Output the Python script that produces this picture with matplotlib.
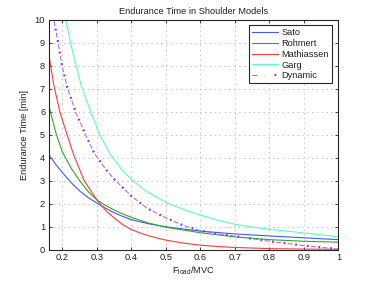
import matplotlib
matplotlib.use("Agg")
import matplotlib.pyplot as plt
from matplotlib.legend_handler import HandlerTuple

plt.rcParams['font.family'] = ['Liberation Sans', 'DejaVu Sans']
plt.rcParams['lines.scale_dashes'] = False
plt.rcParams['mathtext.fontset'] = 'custom'
plt.rcParams['mathtext.rm'] = 'Liberation Sans'
plt.rcParams['mathtext.it'] = 'Liberation Sans'

# ---- data ----
sato_x = [0.16, 0.18, 0.20, 0.225, 0.25, 0.275, 0.30, 0.325, 0.35, 0.375, 0.40, 0.45, 0.50, 0.60, 0.70, 0.80, 0.90, 1.00]
sato_y = [4.15, 3.72, 3.35, 2.92, 2.55, 2.26, 2.02, 1.80, 1.60, 1.44, 1.30, 1.12, 0.99, 0.80, 0.68, 0.59, 0.51, 0.43]

rohmert_x = [0.16, 0.1826, 0.20, 0.225, 0.25, 0.275, 0.30, 0.325, 0.35, 0.375, 0.40, 0.45, 0.50, 0.60, 0.70, 0.80, 0.90, 1.00]
rohmert_y = [6.30, 5.00, 4.25, 3.55, 3.00, 2.52, 2.16, 1.92, 1.72, 1.55, 1.40, 1.15, 0.97, 0.73, 0.55, 0.43, 0.36, 0.32]

mathiassen_x = [0.16, 0.175, 0.1925, 0.2135, 0.232, 0.263, 0.30, 0.327, 0.35, 0.375, 0.40, 0.425, 0.45, 0.475, 0.50, 0.55, 0.60, 0.65, 0.70, 0.80, 0.90, 1.00]
mathiassen_y = [8.55, 7.17, 6.00, 5.00, 4.15, 3.00, 2.16, 1.67, 1.38, 1.08, 0.87, 0.72, 0.60, 0.50, 0.41, 0.28, 0.19, 0.13, 0.09, 0.04, 0.02, 0.01]

garg_x = [0.21, 0.225, 0.24, 0.255, 0.282, 0.308, 0.34, 0.37, 0.40, 0.43, 0.45, 0.50, 0.55, 0.60, 0.65, 0.70, 0.75, 0.80, 0.90, 1.00]
garg_y = [10.0, 8.90, 8.00, 7.10, 6.00, 5.00, 4.12, 3.52, 3.05, 2.68, 2.48, 2.05, 1.75, 1.50, 1.28, 1.10, 0.98, 0.88, 0.72, 0.56]

dyn_x = [0.176, 0.1875, 0.199, 0.2135, 0.238, 0.267, 0.292, 0.3275, 0.352, 0.40, 0.445, 0.50, 0.55, 0.60, 0.65, 0.70, 0.80, 0.90, 1.00]
dyn_y = [9.94, 9.00, 8.00, 7.10, 6.00, 5.00, 4.20, 3.46, 3.03, 2.33, 1.80, 1.38, 1.05, 0.82, 0.69, 0.58, 0.36, 0.17, 0.02]

labels = ['Sato', 'Rohmert', 'Mathiassen', 'Garg', 'Dynamic']
x_ticks = [0.2, 0.3, 0.4, 0.5, 0.6, 0.7, 0.8, 0.9, 1.0]
x_ticklabels = ['0.2', '0.3', '0.4', '0.5', '0.6', '0.7', '0.8', '0.9', '1']
y_ticks = list(range(0, 11))

fig = plt.figure(figsize=(3.74, 2.81), dpi=100)
ax = fig.add_axes([0.13, 0.112, 0.775, 0.817])

tc = '#222222'
fs = 6.7

l1, = ax.plot(sato_x, sato_y, color='#3D5CFF', lw=0.8)
l2, = ax.plot(rohmert_x, rohmert_y, color='#33A526', lw=0.8)
l3, = ax.plot(mathiassen_x, mathiassen_y, color='#FF3B3B', lw=0.8)
l4, = ax.plot(garg_x, garg_y, color='#5CFFB4', lw=0.8)
l5a, = ax.plot(dyn_x, dyn_y, color='#A35CFF', lw=0.7, linestyle=(0, (3.6, 4.8)))
l5b, = ax.plot(dyn_x, dyn_y, color='#8C2BFF', lw=1.6, linestyle=(3.0, (1.3, 7.1)))

ax.set_xlim(0.16, 1.0)
ax.set_ylim(0, 10)
ax.set_xticks(x_ticks)
ax.set_xticklabels(x_ticklabels)
ax.set_yticks(y_ticks)

ax.grid(True, linestyle=(0, (1, 2.5)), color='#BBBBBB', lw=0.6)
ax.tick_params(direction='in', length=2.5, width=0.6, top=True, right=True,
               labelsize=fs, colors=tc, pad=2.5)
for s in ax.spines.values():
    s.set_linewidth(0.8)
    s.set_color('#262626')

ax.set_title('Endurance Time in Shoulder Models', fontsize=fs, color=tc, pad=4)
ax.set_xlabel(r'F$_{\mathregular{load}}$/MVC', fontsize=fs, color=tc, labelpad=2)
ax.set_ylabel('Endurance Time [min]', fontsize=fs, color=tc, labelpad=4)

leg = ax.legend([l1, l2, l3, l4, (l5a, l5b)], labels,
                handler_map={tuple: HandlerTuple(ndivide=None)},
                loc='upper right', bbox_to_anchor=(0.979, 0.977), borderaxespad=0,
                fontsize=fs, frameon=True, fancybox=False, framealpha=1,
                edgecolor='#262626', handlelength=2.8, handletextpad=0.35,
                labelspacing=0.18, borderpad=0.35)
leg.get_frame().set_linewidth(0.8)
for t in leg.get_texts():
    t.set_color(tc)

fig.savefig('out.png', dpi=100)
